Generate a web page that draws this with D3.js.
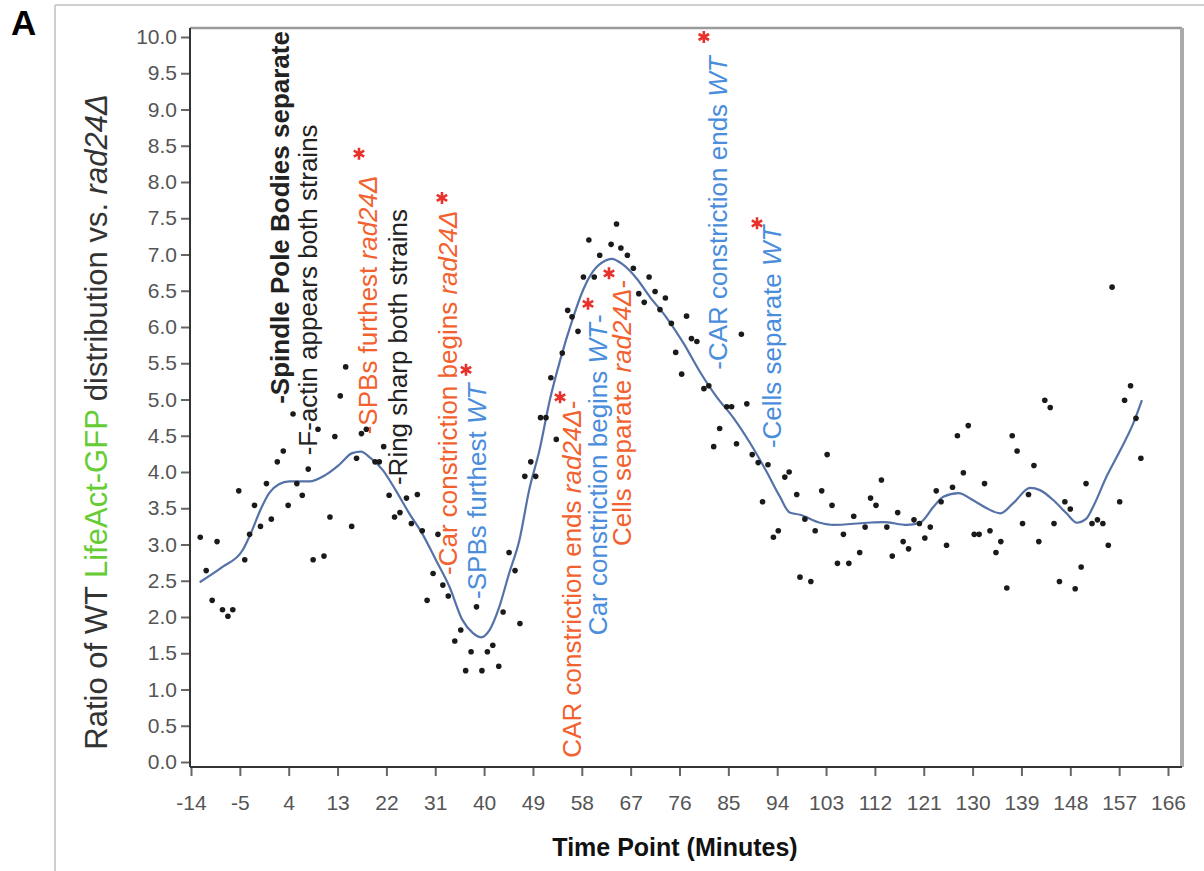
<!DOCTYPE html>
<html>
<head>
<meta charset="utf-8">
<script src="https://cdn.jsdelivr.net/npm/d3@7"></script>
<style>
  body { margin: 0; background: #fff; }
  svg { display: block; font-family: "Liberation Sans", Arial, sans-serif; }
</style>
</head>
<body>
<svg id="chart"></svg>
<script>
const width = 1204, height = 871;

// scatter: time point (min) and WT / rad24 ratio
const times = [-12.3,-11.2,-10.1,-9.2,-8.2,-7.2,-6.3,-5.2,-4.1,-3.2,-2.3,-1.2,-0.1,0.8,1.9,3.0,3.9,4.8,5.5,6.5,
  7.6,8.5,9.4,10.5,11.6,12.5,13.5,14.5,15.6,16.5,17.4,18.3,19.9,20.7,21.5,22.5,23.5,24.5,25.7,26.6,
  27.7,28.6,29.5,30.6,31.5,32.4,33.4,34.6,35.7,36.6,37.6,38.6,39.6,40.6,41.6,42.7,43.5,44.6,45.7,46.6,
  47.5,48.6,49.5,50.4,51.4,52.3,53.3,54.4,55.4,56.2,57.3,58.3,59.3,60.3,61.3,63.4,64.4,65.2,66.4,67.5,
  68.5,69.5,70.4,71.5,72.4,73.4,74.5,75.3,76.4,77.3,78.2,79.2,80.5,81.4,82.3,83.4,84.7,85.6,86.5,87.4,
  88.4,89.4,90.5,91.3,92.3,93.3,94.2,95.4,96.2,97.6,98.2,99.1,100.2,101.0,102.2,103.2,104.1,105.1,106.2,107.2,
  108.1,109.2,110.2,111.2,112.2,113.2,114.2,115.2,116.2,117.2,118.2,119.2,120.2,121.2,122.2,123.3,124.2,125.2,126.3,127.2,
  128.3,129.2,130.3,131.2,132.2,133.2,134.3,135.2,136.3,137.3,138.2,139.2,140.3,141.3,142.2,143.3,144.3,145.0,146.0,147.0,
  148.0,148.9,150.0,150.9,152.0,153.0,154.0,155.0,155.7,157.1,158.0,159.1,160.1,161.0];
const ratios = [3.10,2.64,2.23,3.04,2.10,2.01,2.10,3.74,2.79,3.14,3.54,3.25,3.84,3.35,4.14,4.29,3.54,4.80,3.84,3.68,
  4.04,2.79,4.59,2.84,3.38,4.49,5.05,5.45,3.25,4.19,4.53,4.59,4.14,4.14,4.35,3.68,3.38,3.44,3.64,3.29,
  3.69,3.19,2.23,2.60,3.14,2.44,2.29,1.67,1.82,1.26,1.52,2.14,1.26,1.52,1.61,1.32,2.07,2.89,2.64,1.91,
  3.94,4.14,3.94,4.75,4.75,5.30,4.45,5.64,6.23,6.14,5.94,6.69,7.20,6.69,6.99,7.14,7.42,7.09,6.99,6.81,
  6.46,6.34,6.69,6.49,6.24,6.40,6.05,5.65,5.35,6.15,5.84,5.80,5.15,5.19,4.35,4.60,4.90,4.90,4.39,5.90,
  4.94,4.24,4.13,3.59,4.10,3.10,3.19,3.93,4.00,3.69,2.55,3.35,2.49,3.19,3.74,4.24,3.54,2.74,3.14,2.74,
  3.39,2.89,3.24,3.64,3.54,3.89,3.24,2.84,3.44,3.04,2.94,3.34,3.29,3.09,3.24,3.74,3.59,2.99,3.79,4.50,
  3.99,4.64,3.14,3.14,3.84,3.19,2.89,3.04,2.40,4.50,4.29,3.29,3.69,4.09,3.04,4.99,4.89,3.29,2.49,3.59,
  3.49,2.39,2.69,3.84,3.29,3.34,3.29,2.99,6.55,3.59,4.99,5.19,4.74,4.19];

// smoothed fit
const fitTimes = [-12.4,-8.2,-4.5,-3.0,-1.2,0.4,2.2,4.1,7.8,10.8,13.3,15.7,17.3,19.1,21.3,23.7,26.2,28.6,31.1,33.6,
  36.0,37.9,39.4,41.0,42.8,44.6,46.5,48.3,50.2,52.1,54.0,56.4,58.3,60.1,62.2,63.5,65.6,68.1,70.5,73.6,
  76.7,79.7,82.8,85.9,89.0,92.0,94.5,96.3,98.2,101.9,104.3,110.5,113.6,117.9,120.3,122.8,124.6,127.4,130.1,132.6,
  135.1,137.5,140.6,142.4,144.9,147.3,149.2,151.0,152.2,154.7,157.2,159.6,161.2];
const fitRatios = [2.48,2.69,2.92,3.15,3.48,3.71,3.83,3.87,3.87,3.96,4.10,4.26,4.28,4.19,4.03,3.75,3.43,3.15,2.79,2.42,
  1.96,1.78,1.72,1.82,2.14,2.60,3.06,3.75,4.30,4.99,5.54,6.13,6.52,6.77,6.91,6.94,6.86,6.67,6.42,6.13,
  5.78,5.39,5.04,4.75,4.40,4.01,3.66,3.44,3.41,3.30,3.27,3.30,3.31,3.27,3.30,3.52,3.66,3.71,3.61,3.50,
  3.43,3.57,3.78,3.75,3.61,3.43,3.30,3.36,3.52,3.94,4.30,4.67,4.99];

const xTicks = d3.range(-14, 167, 9);
const yTicks = d3.range(0, 10.01, 0.5);

const ORANGE = "#f2612e", BLUE = "#4a8ddc", INK = "#222";

// event labels: anchor (time, ratio) at the start of the rotated text
const notes = [
  { t: 4.06, v: 4.94, color: INK, bold: true, parts: [["-Spindle Pole Bodies separate", false]] },
  { t: 9.21, v: 4.23, color: INK, parts: [["-F-actin appears both strains", false]] },
  { t: 20.27, v: 4.52, color: ORANGE, parts: [["-SPBs furthest ", false], ["rad24Δ", true]] },
  { t: 25.8, v: 3.82, color: INK, parts: [["-Ring sharp both strains", false]] },
  { t: 35.01, v: 2.58, color: ORANGE, parts: [["-Car constriction begins ", false], ["rad24Δ", true]] },
  { t: 40.35, v: 2.25, color: BLUE, parts: [["-SPBs furthest ", false], ["WT", true]] },
  { t: 57.85, v: 0.06, color: ORANGE, parts: [["CAR constriction ends ", false], ["rad24Δ", true], ["-", false]] },
  { t: 62.64, v: 1.75, color: BLUE, parts: [["Car constriction begins ", false], ["WT", true], ["-", false]] },
  { t: 67.07, v: 2.98, color: ORANGE, parts: [["Cells separate ", false], ["rad24Δ", true], ["-", false]] },
  { t: 84.75, v: 5.41, color: BLUE, parts: [["-CAR constriction ends ", false], ["WT", true]] },
  { t: 94.7, v: 4.33, color: BLUE, parts: [["-Cells separate ", false], ["WT", true]] }
];
const starTimes = [16.95, 32.24, 36.67, 53.99, 59.14, 63.01, 80.48, 90.28];
const starRatios = [8.39, 7.78, 5.41, 5.03, 6.32, 6.74, 10.0, 7.43];

const svg = d3.select("#chart").attr("width", width).attr("height", height);

const x = d3.scaleLinear().domain([-14, 166]).range([191, 1168]);
const y = d3.scaleLinear().domain([0, 10]).range([762, 37]);

const plotL = 190, plotR = 1182, plotT = 28, plotB = 767;

// outer panel frame
svg.append("line").attr("x1", 55).attr("x2", width).attr("y1", 5).attr("y2", 5)
  .attr("stroke", "#cfcfcf").attr("stroke-width", 2);
svg.append("line").attr("x1", 55).attr("x2", 55).attr("y1", 5).attr("y2", height)
  .attr("stroke", "#cfcfcf").attr("stroke-width", 2);

svg.append("text").attr("x", 11).attr("y", 35)
  .style("font-size", "35px").style("font-weight", "bold").text("A");

// plot box
svg.append("line").attr("x1", plotL).attr("x2", plotR).attr("y1", plotT).attr("y2", plotT)
  .attr("stroke", "#9a9a9a").attr("stroke-width", 2.5);
svg.append("line").attr("x1", plotR).attr("x2", plotR).attr("y1", plotT).attr("y2", plotB)
  .attr("stroke", "#aaa").attr("stroke-width", 4);

// axes
const yAxis = svg.append("g").attr("transform", `translate(${plotL},0)`)
  .call(d3.axisLeft(y).tickValues(yTicks).tickFormat(d3.format(".1f")).tickSize(9).tickPadding(4));
const xAxis = svg.append("g").attr("transform", `translate(0,${plotB})`)
  .call(d3.axisBottom(x).tickValues(xTicks).tickFormat(d => String(d)).tickSize(9).tickPadding(19));
[yAxis, xAxis].forEach(a => {
  a.select(".domain").remove();
  a.selectAll(".tick line").attr("stroke", "#666").attr("stroke-width", 2);
  a.selectAll(".tick text").attr("fill", "#555").style("font-size", "21px")
    .style("font-family", "'Liberation Sans', Arial, sans-serif");
});

svg.append("line").attr("x1", plotL).attr("x2", plotL).attr("y1", plotT).attr("y2", plotB)
  .attr("stroke", "#333").attr("stroke-width", 2);
svg.append("line").attr("x1", plotL).attr("x2", plotR).attr("y1", plotB).attr("y2", plotB)
  .attr("stroke", "#333").attr("stroke-width", 2);

// axis titles
svg.append("text").attr("x", 675).attr("y", 856).attr("text-anchor", "middle")
  .style("font-size", "25px").style("font-weight", "bold").attr("fill", "#111")
  .text("Time Point (Minutes)");

const yt = svg.append("text").attr("transform", "translate(107,422) rotate(-90)")
  .attr("text-anchor", "middle").style("font-size", "31px").attr("fill", "#333");
yt.append("tspan").text("Ratio of WT ");
yt.append("tspan").attr("fill", "#66cc33").text("LifeAct-GFP");
yt.append("tspan").text(" distribution vs. ");
yt.append("tspan").style("font-style", "italic").text("rad24Δ");

// fitted curve
const fit = fitTimes.map((t, i) => [t, fitRatios[i]]);
svg.append("path").datum(fit)
  .attr("fill", "none").attr("stroke", "#5572a8").attr("stroke-width", 2.2)
  .attr("d", d3.line().x(d => x(d[0])).y(d => y(d[1])).curve(d3.curveMonotoneX));

// points
svg.append("g").selectAll("circle").data(times.map((t, i) => [t, ratios[i]]))
  .join("circle")
  .attr("cx", d => x(d[0])).attr("cy", d => y(d[1])).attr("r", 2.8)
  .attr("fill", "#1a1a1a");

// event labels
notes.forEach(n => {
  const txt = svg.append("text")
    .attr("transform", `translate(${x(n.t)},${y(n.v)}) rotate(-90)`)
    .attr("fill", n.color).style("font-size", "26px")
    .style("font-weight", n.bold ? "bold" : "normal");
  n.parts.forEach(p => {
    txt.append("tspan").style("font-style", p[1] ? "italic" : "normal").text(p[0]);
  });
});

// red asterisks
const star = "M0,-6V6M-5.2,-3L5.2,3M-5.2,3L5.2,-3";
svg.append("g").selectAll("path").data(starTimes.map((t, i) => [t, starRatios[i]]))
  .join("path")
  .attr("transform", d => `translate(${x(d[0])},${y(d[1])})`)
  .attr("d", star).attr("stroke", "#e8312a").attr("stroke-width", 2.6).attr("fill", "none");
</script>
</body>
</html>
